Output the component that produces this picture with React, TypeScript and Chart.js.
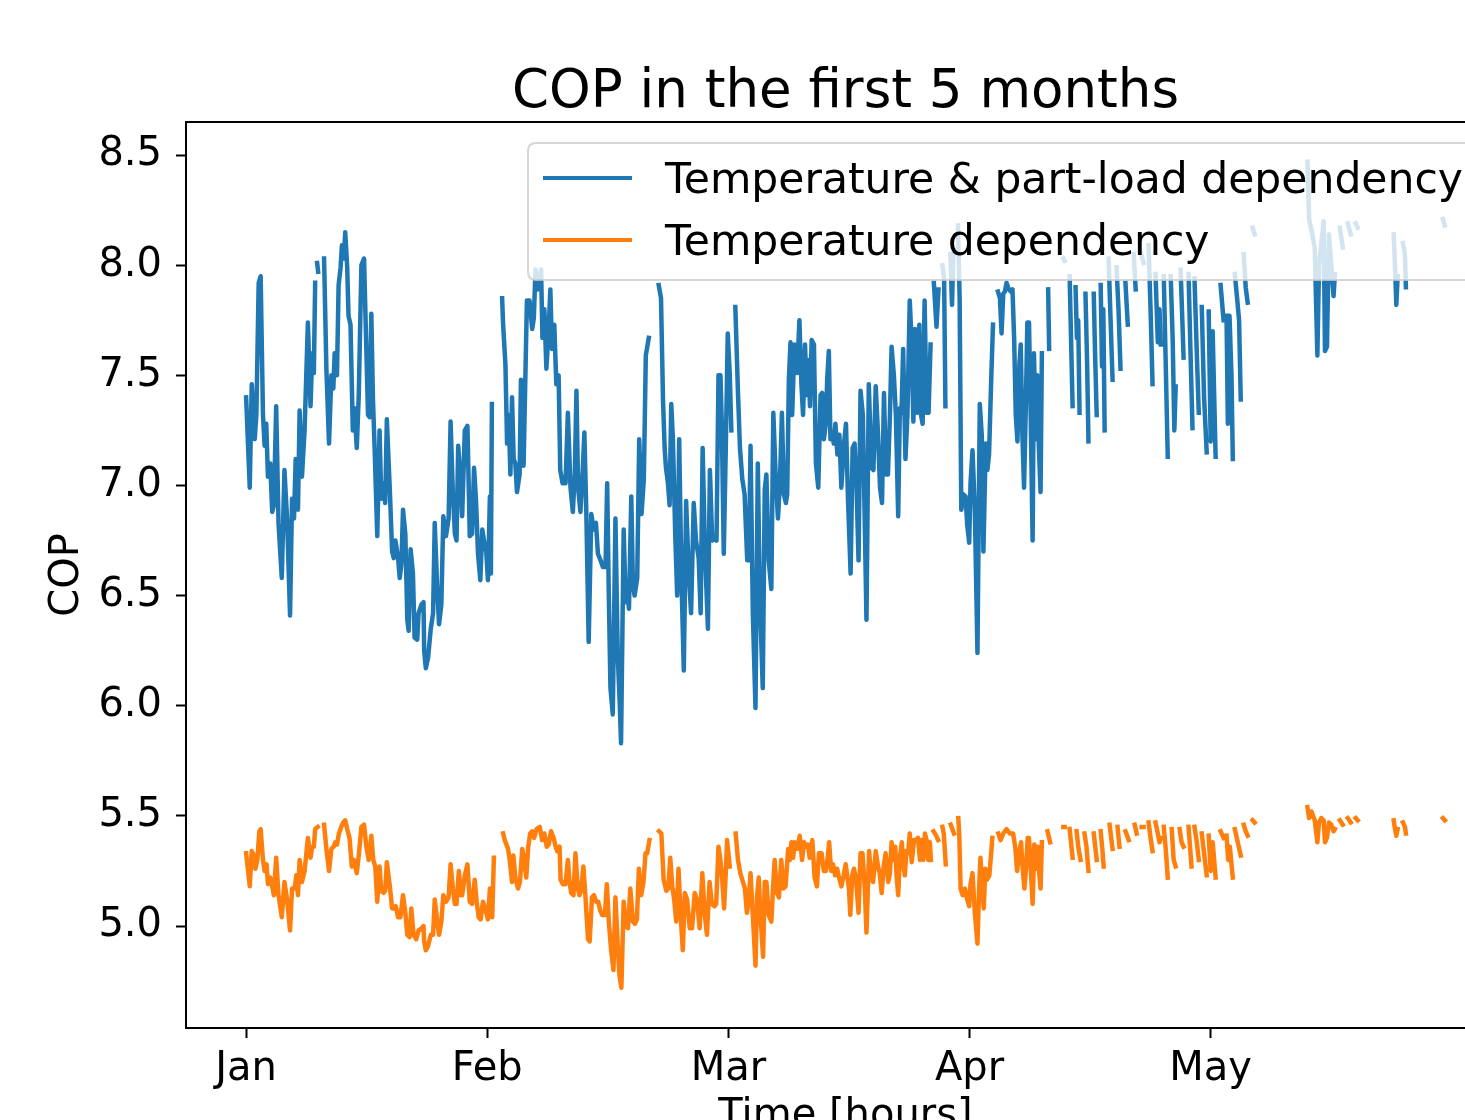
import React, { useEffect, useRef } from "react";
import { Chart, registerables } from "chart.js";

Chart.register(...registerables);

const FONT = "'DejaVu Sans', 'Liberation Sans', sans-serif";
const TITLE = "COP in the first 5 months";
const Y_LABEL = "COP";
const X_LABEL = "Time [hours]";
const SERIES_NAMES = ["Temperature & part-load dependency", "Temperature dependency"];
const SERIES_COLORS = ["#1f77b4", "#ff7f0e"];
const MONTH_TICKS = [0, 730, 1460, 2190, 2920];
const MONTH_LABELS = ["Jan", "Feb", "Mar", "Apr", "May"];
const COP_TICKS = [5.0, 5.5, 6.0, 6.5, 7.0, 7.5, 8.0, 8.5];
const X_RANGE = [-182, 3811];
const Y_RANGE = [4.537, 8.65];

// [hour, COP] — null marks a gap (heat pump off)
const partLoadCop: [number, number | null][] = [
  [0, 7.40], [11, 6.99], [17, 7.46], [26, 7.21], [31, 7.32], [38, 7.92], [44, 7.95], [51, 7.32], [56, 7.18], [61, 7.28],
  [66, 7.04], [73, 7.10], [79, 6.88], [84, 6.91], [91, 7.36], [98, 6.83], [108, 6.58], [116, 7.07], [124, 6.85], [133, 6.41],
  [139, 6.94], [145, 6.85], [150, 7.12], [157, 6.89], [162, 7.34], [169, 7.04], [177, 7.25], [187, 7.74], [195, 7.36], [200, 7.60],
  [205, 7.51], [209, 7.92], [213, null], [215, 8.01], [218, 7.97], [224, null], [236, 8.03], [243, 7.53], [251, 7.19], [258, 7.50],
  [264, 7.44], [268, 7.60], [275, 7.50], [280, 7.91], [286, 7.99], [290, 8.09], [296, 8.03], [300, 8.15], [306, 7.99], [310, 7.77],
  [316, 7.73], [323, 7.25], [328, 7.35], [335, 7.17], [341, 7.41], [349, 8.00], [357, 8.03], [369, 7.32], [374, 7.31], [379, 7.78],
  [384, 7.39], [389, 7.17], [397, 6.77], [404, 7.25], [409, 6.94], [415, 7.01], [421, 6.92], [426, 7.30], [435, 6.98], [442, 6.70],
  [447, 6.67], [452, 6.75], [460, 6.67], [465, 6.58], [470, 6.64], [475, 6.89], [482, 6.78], [488, 6.39], [492, 6.34], [498, 6.71],
  [505, 6.60], [510, 6.31], [518, 6.30], [522, 6.42], [531, 6.46], [537, 6.47], [539, 6.25], [544, 6.17], [551, 6.22], [559, 6.35],
  [566, 6.42], [571, 6.83], [578, 6.55], [584, 6.37], [591, 6.46], [597, 6.86], [605, 6.77], [613, 6.85], [619, 7.29], [626, 6.96],
  [632, 6.78], [637, 6.75], [642, 7.18], [649, 7.03], [654, 6.86], [662, 7.25], [670, 7.27], [677, 6.77], [684, 6.78], [690, 7.08],
  [696, 6.93], [702, 6.69], [709, 6.57], [715, 6.80], [722, 6.73], [727, 6.70], [732, 6.57], [738, 6.95], [741, 6.60], [744, 7.37],
  [752, null],
  [775, 7.85], [778, 7.73], [785, 7.55], [790, 7.19], [795, 7.32], [800, 7.05], [805, 7.40], [810, 7.12], [815, 7.10], [820, 6.97],
  [828, 7.05], [832, 7.48], [840, 7.09], [850, 7.84], [858, 7.84], [866, 7.71], [871, 7.76], [876, 7.98], [883, 7.89], [893, 7.98],
  [897, 7.67], [903, 7.80], [909, 7.53], [916, 7.71], [921, 7.89], [926, 7.62], [933, 7.73], [939, 7.46], [946, 7.50], [951, 7.07],
  [958, 7.01], [967, 7.01], [974, 7.33], [982, 6.99], [989, 6.88], [995, 7.05], [1000, 7.43], [1005, 6.99], [1012, 6.88], [1019, 7.07],
  [1024, 7.24], [1030, 6.87], [1037, 6.29], [1045, 6.87], [1052, 6.80], [1059, 6.83], [1065, 6.69], [1073, 6.66], [1080, 6.63], [1088, 6.63],
  [1093, 7.01], [1098, 6.50], [1103, 6.08], [1110, 5.96], [1118, 6.85], [1125, 6.23], [1131, 6.01], [1135, 5.83], [1143, 6.80], [1149, 6.47],
  [1153, 6.53], [1159, 6.44], [1166, 6.95], [1171, 6.55], [1176, 6.50], [1184, 6.58], [1190, 7.21], [1197, 6.87], [1204, 7.03], [1210, 7.59],
  [1219, 7.67], [1230, null],
  [1249, 7.91], [1256, 7.85], [1262, 7.39], [1267, 7.17], [1271, 7.08], [1277, 7.01], [1282, 6.91], [1287, 7.37], [1292, 7.21], [1299, 6.78],
  [1305, 6.50], [1311, 7.21], [1318, 6.57], [1325, 6.16], [1332, 6.93], [1340, 6.60], [1347, 6.42], [1355, 6.92], [1362, 6.75], [1370, 6.67],
  [1376, 6.42], [1382, 7.17], [1389, 6.71], [1398, 6.35], [1404, 7.07], [1411, 6.75], [1418, 6.76], [1424, 6.75], [1430, 7.50], [1436, 7.50],
  [1440, 7.28], [1446, 6.69], [1452, 7.16], [1458, 7.69], [1464, 7.51], [1469, 7.25], [1474, null],
  [1481, 7.81], [1489, 7.42], [1495, 7.17], [1502, 7.03], [1509, 6.96], [1517, 6.66], [1522, 6.66], [1527, 7.18], [1534, 6.42], [1542, 5.99],
  [1549, 7.10], [1555, 6.51], [1564, 6.08], [1570, 6.98], [1575, 7.05], [1582, 6.66], [1590, 6.53], [1596, 7.33], [1603, 7.05], [1610, 6.85],
  [1616, 7.01], [1622, 7.33], [1628, 6.96], [1634, 6.92], [1638, 6.96], [1643, 7.48], [1648, 7.65], [1653, 7.32], [1660, 7.64], [1668, 7.51],
  [1675, 7.75], [1681, 7.46], [1686, 7.32], [1692, 7.64], [1697, 7.41], [1702, 7.57], [1707, 7.36], [1712, 7.66], [1719, 7.64], [1725, 7.10],
  [1732, 6.99], [1739, 7.41], [1744, 7.42], [1749, 7.21], [1755, 7.28], [1759, 7.48], [1764, 7.61], [1769, 7.21], [1775, 7.23], [1779, 7.19],
  [1784, 7.28], [1790, 7.14], [1796, 7.23], [1802, 6.99], [1810, 7.19], [1816, 7.28], [1822, 6.94], [1830, 6.60], [1836, 7.17], [1842, 7.19],
  [1848, 6.99], [1854, 6.66], [1860, 7.43], [1867, 7.32], [1872, 6.90], [1878, 6.39], [1885, 7.46], [1893, 7.08], [1899, 7.07], [1906, 7.45],
  [1913, 7.23], [1919, 6.99], [1925, 6.92], [1931, 7.42], [1937, 7.05], [1943, 7.05], [1949, 7.32], [1954, 7.63], [1961, 7.50], [1967, 7.32],
  [1974, 6.86], [1979, 7.35], [1984, 7.33], [1989, 7.62], [1996, 7.12], [2002, 7.32], [2009, 7.84], [2014, 7.67], [2020, 7.29], [2025, 7.71],
  [2032, 7.33], [2038, 7.73], [2042, 7.33], [2048, 7.28], [2054, 7.84], [2060, 7.33], [2066, 7.33], [2072, 7.64], [2075, null],
  [2082, 7.92], [2090, 7.72], [2096, 7.89], [2102, null], [2108, 8.00], [2113, 7.94], [2117, 7.36], [2124, null],
  [2132, 8.05], [2137, 7.82], [2141, 8.07], [2149, null],
  [2155, 8.18], [2160, 7.85], [2165, 6.89], [2171, 6.96], [2178, 6.95], [2183, 6.82], [2189, 6.74], [2193, 7.01], [2199, 7.16], [2206, 6.89],
  [2214, 6.24], [2221, 7.37], [2227, 7.23], [2232, 6.70], [2239, 7.19], [2244, 7.07], [2249, 7.14], [2256, 7.50], [2261, 7.73], [2267, null],
  [2276, 7.88], [2282, 7.85], [2287, 7.69], [2292, 7.87], [2297, 7.88], [2302, 7.92], [2309, 7.89], [2315, 7.88], [2320, 7.89], [2325, 7.67],
  [2330, 7.32], [2335, 7.20], [2341, 7.55], [2345, 7.64], [2350, 7.23], [2355, 6.99], [2360, 7.33], [2365, 7.74], [2370, 7.74], [2375, 7.33],
  [2381, 6.75], [2385, 7.60], [2391, 7.21], [2395, 7.50], [2400, 7.17], [2405, 6.97], [2409, 7.60], [2415, null],
  [2428, 7.89], [2431, 7.62], [2440, null], [2474, 8.03], [2478, 8.02], [2484, null],
  [2493, 7.95], [2502, 7.36], [2506, null],
  [2511, 7.90], [2515, 7.67], [2519, 7.75], [2523, 7.33], [2530, null],
  [2541, 7.87], [2546, 7.55], [2550, 7.20], [2558, null],
  [2566, 7.87], [2570, 7.60], [2575, 7.32], [2580, null],
  [2587, 7.91], [2591, 7.54], [2595, 7.80], [2599, 7.25], [2605, null],
  [2611, 8.03], [2617, 7.75], [2623, 7.48], [2629, null],
  [2635, 7.99], [2641, 7.80], [2647, 7.53], [2654, null],
  [2662, 7.92], [2669, 7.73], [2678, null],
  [2687, 8.05], [2693, 7.89], [2700, null],
  [2708, 8.06], [2717, 8.01], [2724, null],
  [2732, 8.09], [2738, 7.80], [2744, 7.46], [2748, null],
  [2753, 7.96], [2760, 7.65], [2765, 7.80], [2769, 7.64], [2773, null],
  [2778, 7.95], [2784, 7.55], [2790, 7.13], [2795, null],
  [2799, 7.95], [2805, 7.66], [2810, 7.25], [2814, 7.45], [2820, null],
  [2829, 7.98], [2838, 7.58], [2845, null],
  [2853, 7.96], [2859, 7.60], [2865, 7.26], [2868, null],
  [2871, 7.94], [2878, 7.60], [2884, 7.33], [2888, null],
  [2893, 7.81], [2900, 7.40], [2908, 7.15], [2911, null],
  [2914, 7.79], [2920, 7.20], [2926, 7.70], [2935, 7.13], [2942, null],
  [2950, 7.91], [2959, 7.75], [2964, null],
  [2968, 7.77], [2972, 7.28], [2977, 7.77], [2983, 7.50], [2987, 7.12], [2990, null],
  [2993, 7.96], [3000, 7.85], [3006, 7.75], [3011, 7.39], [3015, null],
  [3020, 8.05], [3026, 7.90], [3032, 7.83], [3040, null],
  [3047, 8.17], [3053, 8.14], [3100, null],
  [3213, 8.47], [3218, 8.21], [3225, 8.16], [3235, 8.08], [3243, 7.59], [3248, 8.00], [3255, 8.10], [3262, 8.20], [3266, 7.61], [3272, 7.63],
  [3278, 8.14], [3285, 8.00], [3292, 7.86], [3296, 7.96], [3303, null],
  [3311, 8.17], [3320, 8.08], [3328, null],
  [3335, 8.19], [3344, 8.14], [3350, null],
  [3359, 8.19], [3365, 8.17], [3400, null],
  [3474, 8.14], [3478, 8.00], [3482, 7.82], [3486, 7.95], [3494, null],
  [3502, 8.10], [3508, 8.05], [3511, 7.90], [3560, null],
  [3623, 8.21], [3629, 8.18],
];

const temperatureCop: [number, number | null][] = [
  [0, 5.33], [11, 5.18], [17, 5.34], [23, 5.32], [28, 5.26], [34, 5.30], [40, 5.43], [44, 5.44], [51, 5.30], [56, 5.25],
  [62, 5.28], [66, 5.19], [73, 5.22], [79, 5.18], [84, 5.14], [91, 5.31], [98, 5.14], [108, 5.04], [116, 5.20], [124, 5.12],
  [133, 4.98], [139, 5.17], [147, 5.17], [152, 5.23], [157, 5.14], [162, 5.30], [169, 5.20], [177, 5.25], [187, 5.40], [195, 5.31],
  [200, 5.36], [205, 5.36], [209, 5.44], [217, 5.45], [224, null],
  [236, 5.46], [243, 5.35], [251, 5.25], [258, 5.35], [265, 5.36], [270, 5.38], [275, 5.37], [281, 5.42], [288, 5.45], [294, 5.47],
  [300, 5.48], [306, 5.44], [313, 5.40], [320, 5.27], [326, 5.30], [335, 5.24], [341, 5.32], [349, 5.45], [357, 5.46], [364, 5.36],
  [371, 5.30], [379, 5.41], [385, 5.30], [391, 5.27], [397, 5.11], [404, 5.27], [409, 5.16], [416, 5.15], [421, 5.16], [426, 5.29],
  [435, 5.18], [442, 5.08], [448, 5.08], [453, 5.09], [460, 5.04], [467, 5.04], [475, 5.14], [482, 5.06], [488, 4.96], [495, 4.95],
  [500, 5.08], [507, 4.96], [515, 4.94], [522, 4.98], [531, 4.99], [537, 5.00], [539, 4.93], [544, 4.89], [551, 4.91], [559, 4.96],
  [566, 4.96], [571, 5.12], [578, 5.03], [584, 4.96], [591, 5.02], [597, 5.14], [605, 5.11], [613, 5.13], [619, 5.28], [626, 5.17],
  [632, 5.10], [637, 5.10], [644, 5.25], [650, 5.14], [654, 5.14], [662, 5.23], [670, 5.28], [677, 5.11], [684, 5.10], [692, 5.21],
  [698, 5.11], [704, 5.04], [710, 5.03], [717, 5.11], [724, 5.08], [732, 5.03], [738, 5.17], [745, 5.04], [750, 5.31], [760, null],
  [778, 5.42], [783, 5.39], [793, 5.35], [798, 5.30], [805, 5.20], [809, 5.32], [815, 5.22], [823, 5.17], [829, 5.20], [836, 5.35],
  [842, 5.30], [848, 5.22], [854, 5.36], [860, 5.42], [866, 5.43], [872, 5.40], [879, 5.44], [889, 5.45], [896, 5.39], [903, 5.42],
  [910, 5.36], [916, 5.37], [923, 5.43], [931, 5.40], [937, 5.36], [942, 5.34], [949, 5.36], [952, 5.21], [959, 5.19], [967, 5.19],
  [974, 5.30], [979, 5.20], [984, 5.15], [991, 5.14], [997, 5.33], [1004, 5.17], [1009, 5.14], [1014, 5.16], [1021, 5.27], [1027, 5.14],
  [1035, 4.94], [1040, 4.93], [1047, 5.13], [1053, 5.14], [1060, 5.11], [1066, 5.11], [1072, 5.07], [1078, 5.05], [1086, 5.05], [1092, 5.19],
  [1098, 5.02], [1105, 4.89], [1112, 4.80], [1118, 5.13], [1125, 4.91], [1130, 4.78], [1136, 4.72], [1143, 5.11], [1149, 5.00], [1156, 4.99],
  [1163, 5.17], [1171, 5.02], [1177, 5.01], [1183, 5.03], [1189, 5.26], [1196, 5.14], [1203, 5.20], [1209, 5.33], [1214, 5.33], [1221, 5.39],
  [1230, null],
  [1250, 5.43], [1257, 5.42], [1264, 5.21], [1272, 5.16], [1278, 5.17], [1284, 5.31], [1290, 5.18], [1296, 5.12], [1302, 5.02], [1309, 5.26],
  [1315, 5.06], [1322, 4.89], [1328, 5.15], [1335, 5.12], [1343, 4.99], [1350, 4.99], [1358, 5.15], [1365, 5.12], [1373, 4.99], [1381, 5.24],
  [1388, 5.06], [1395, 4.96], [1403, 5.20], [1410, 5.10], [1418, 5.09], [1423, 5.10], [1430, 5.36], [1435, 5.31], [1441, 5.22], [1447, 5.08],
  [1452, 5.24], [1456, 5.39], [1464, 5.27], [1472, null],
  [1482, 5.42], [1489, 5.30], [1496, 5.24], [1504, 5.20], [1510, 5.17], [1516, 5.06], [1522, 5.12], [1527, 5.24], [1535, 5.02], [1542, 4.82],
  [1547, 5.14], [1552, 5.22], [1557, 5.05], [1565, 4.86], [1570, 5.20], [1575, 5.20], [1582, 5.05], [1590, 5.02], [1595, 5.17], [1600, 5.30],
  [1607, 5.15], [1613, 5.13], [1620, 5.30], [1627, 5.17], [1633, 5.18], [1641, 5.35], [1646, 5.30], [1651, 5.38], [1656, 5.31], [1661, 5.38],
  [1669, 5.35], [1676, 5.41], [1683, 5.30], [1689, 5.38], [1696, 5.36], [1701, 5.37], [1706, 5.31], [1714, 5.39], [1721, 5.22], [1728, 5.18],
  [1734, 5.33], [1742, 5.33], [1749, 5.25], [1755, 5.25], [1760, 5.30], [1765, 5.38], [1771, 5.25], [1777, 5.28], [1783, 5.23], [1789, 5.26],
  [1795, 5.22], [1802, 5.18], [1809, 5.23], [1815, 5.28], [1825, 5.17], [1829, 5.05], [1835, 5.23], [1840, 5.26], [1846, 5.22], [1854, 5.06],
  [1860, 5.33], [1866, 5.33], [1873, 5.17], [1878, 4.97], [1886, 5.34], [1891, 5.24], [1898, 5.20], [1906, 5.34], [1913, 5.27], [1918, 5.24],
  [1924, 5.15], [1930, 5.27], [1936, 5.33], [1944, 5.20], [1949, 5.24], [1954, 5.38], [1961, 5.30], [1965, 5.36], [1969, 5.23], [1974, 5.14],
  [1979, 5.31], [1985, 5.38], [1989, 5.29], [1994, 5.23], [1999, 5.34], [2004, 5.33], [2009, 5.42], [2015, 5.29], [2022, 5.39], [2027, 5.39],
  [2034, 5.40], [2040, 5.30], [2045, 5.39], [2050, 5.30], [2055, 5.42], [2060, 5.39], [2065, 5.30], [2070, 5.38], [2073, 5.30], [2077, null],
  [2081, 5.43], [2089, 5.41], [2095, 5.39], [2101, null], [2108, 5.45], [2112, 5.42], [2118, 5.28], [2124, null],
  [2133, 5.46], [2138, 5.44], [2143, 5.42], [2149, null],
  [2156, 5.49], [2159, 5.41], [2163, 5.17], [2169, 5.14], [2176, 5.17], [2183, 5.12], [2189, 5.09], [2193, 5.19], [2199, 5.24], [2206, 5.06],
  [2214, 4.92], [2219, 5.17], [2223, 5.31], [2229, 5.17], [2233, 5.08], [2238, 5.26], [2243, 5.21], [2250, 5.23], [2255, 5.32], [2259, 5.40],
  [2268, null],
  [2277, 5.42], [2284, 5.39], [2292, 5.42], [2302, 5.44], [2312, 5.42], [2322, 5.42], [2329, 5.35], [2334, 5.25], [2340, 5.33], [2346, 5.38],
  [2350, 5.28], [2356, 5.17], [2361, 5.26], [2366, 5.40], [2370, 5.40], [2375, 5.27], [2381, 5.10], [2386, 5.37], [2391, 5.26], [2396, 5.36],
  [2401, 5.24], [2405, 5.17], [2409, 5.38], [2415, null],
  [2426, 5.43], [2434, 5.38], [2444, null], [2474, 5.45], [2478, 5.45], [2484, null],
  [2493, 5.44], [2502, 5.31], [2506, null],
  [2514, 5.43], [2520, 5.35], [2526, 5.30], [2530, null],
  [2538, 5.42], [2544, 5.36], [2550, 5.25], [2558, null],
  [2566, 5.42], [2575, 5.30], [2580, null],
  [2587, 5.43], [2592, 5.35], [2596, 5.27], [2605, null],
  [2614, 5.46], [2623, 5.35], [2629, null],
  [2638, 5.45], [2644, 5.36], [2654, null],
  [2662, 5.43], [2672, 5.39], [2678, null],
  [2690, 5.46], [2696, 5.42], [2700, null],
  [2711, 5.45], [2717, 5.45], [2724, null],
  [2732, 5.47], [2738, 5.40], [2744, 5.34], [2748, null],
  [2753, 5.47], [2760, 5.42], [2765, 5.38], [2769, 5.40], [2773, null],
  [2778, 5.45], [2784, 5.35], [2790, 5.22], [2795, null],
  [2802, 5.44], [2808, 5.30], [2814, 5.27], [2820, null],
  [2826, 5.44], [2832, 5.38], [2838, 5.36], [2845, null],
  [2853, 5.45], [2858, 5.35], [2862, 5.27], [2868, null],
  [2871, 5.45], [2878, 5.38], [2884, 5.30], [2888, null],
  [2893, 5.42], [2900, 5.33], [2908, 5.23], [2911, null],
  [2914, 5.41], [2920, 5.25], [2926, 5.38], [2935, 5.22], [2942, null],
  [2950, 5.43], [2959, 5.40], [2964, null],
  [2968, 5.41], [2973, 5.30], [2978, 5.36], [2983, 5.28], [2987, 5.22], [2990, null],
  [2993, 5.44], [3002, 5.38], [3011, 5.32], [3015, null],
  [3020, 5.46], [3026, 5.43], [3032, 5.41], [3040, null],
  [3047, 5.48], [3053, 5.47], [3100, null],
  [3213, 5.54], [3218, 5.49], [3225, 5.52], [3235, 5.48], [3243, 5.38], [3248, 5.47], [3255, 5.49], [3262, 5.48], [3266, 5.38], [3272, 5.40],
  [3278, 5.47], [3285, 5.46], [3292, 5.43], [3296, 5.44], [3303, null],
  [3311, 5.48], [3320, 5.46], [3328, null],
  [3335, 5.49], [3344, 5.47], [3350, null],
  [3359, 5.49], [3365, 5.48], [3400, null],
  [3474, 5.48], [3478, 5.44], [3482, 5.41], [3486, 5.44], [3494, null],
  [3502, 5.47], [3508, 5.45], [3511, 5.42], [3560, null],
  [3623, 5.49], [3629, 5.48],
];

const CANVAS_W = 1560;
const CANVAS_H = 1160;

const framePlugin = {
  id: "mplFrame",
  afterDraw(chart: any) {
    const { ctx, chartArea } = chart;
    const { left, top, right, bottom } = chartArea;
    ctx.save();
    // title, centred over the axes as in matplotlib
    ctx.fillStyle = "#000";
    ctx.font = `53px ${FONT}`;
    ctx.textAlign = "center";
    ctx.textBaseline = "alphabetic";
    ctx.fillText(TITLE, (left + right) / 2, top - 15);

    // spines
    ctx.strokeStyle = "#000";
    ctx.lineWidth = 2;
    ctx.strokeRect(left, top, right - left, bottom - top);

    // legend box
    const bx = left + 342, by = top + 21, bw = right - 20 - (left + 342), bh = 137, r = 8;
    ctx.beginPath();
    ctx.moveTo(bx + r, by);
    ctx.lineTo(bx + bw - r, by);
    ctx.quadraticCurveTo(bx + bw, by, bx + bw, by + r);
    ctx.lineTo(bx + bw, by + bh - r);
    ctx.quadraticCurveTo(bx + bw, by + bh, bx + bw - r, by + bh);
    ctx.lineTo(bx + r, by + bh);
    ctx.quadraticCurveTo(bx, by + bh, bx, by + bh - r);
    ctx.lineTo(bx, by + r);
    ctx.quadraticCurveTo(bx, by, bx + r, by);
    ctx.closePath();
    ctx.fillStyle = "rgba(255,255,255,0.8)";
    ctx.fill();
    ctx.strokeStyle = "rgba(204,204,204,0.8)";
    ctx.lineWidth = 2;
    ctx.stroke();

    ctx.font = `42.5px ${FONT}`;
    ctx.textAlign = "left";
    ctx.textBaseline = "alphabetic";
    SERIES_NAMES.forEach((name, i) => {
      const cy = by + 35 + i * 62;
      ctx.strokeStyle = SERIES_COLORS[i];
      ctx.lineWidth = 4;
      ctx.beginPath();
      ctx.moveTo(bx + 15, cy);
      ctx.lineTo(bx + 104, cy);
      ctx.stroke();
      ctx.fillStyle = "#000";
      ctx.fillText(name, bx + 137, cy + 15);
    });
    ctx.restore();
  },
};

export default function App() {
  const canvasRef = useRef<HTMLCanvasElement | null>(null);

  useEffect(() => {
    const canvas = canvasRef.current;
    if (!canvas) return;
    const tickFont = { family: FONT, size: 40 };
    const chart = new Chart(canvas, {
      type: "line",
      data: {
        datasets: [
          {
            label: SERIES_NAMES[0],
            data: partLoadCop.map(([x, y]) => ({ x, y })),
            borderColor: SERIES_COLORS[0],
            backgroundColor: SERIES_COLORS[0],
            borderWidth: 4.5,
            pointRadius: 0,
            tension: 0,
            spanGaps: false,
            borderJoinStyle: "round",
            borderCapStyle: "square",
          },
          {
            label: SERIES_NAMES[1],
            data: temperatureCop.map(([x, y]) => ({ x, y })),
            borderColor: SERIES_COLORS[1],
            backgroundColor: SERIES_COLORS[1],
            borderWidth: 4.5,
            pointRadius: 0,
            tension: 0,
            spanGaps: false,
            borderJoinStyle: "round",
            borderCapStyle: "square",
          },
        ],
      },
      options: {
        animation: false,
        responsive: false,
        devicePixelRatio: 1,
        events: [],
        layout: { padding: { left: 0, right: 55, top: 122, bottom: 0 } },
        plugins: {
          legend: { display: false },
          tooltip: { enabled: false },
          title: { display: false },
        },
        scales: {
          x: {
            type: "linear",
            min: X_RANGE[0],
            max: X_RANGE[1],
            afterBuildTicks: (s: any) => {
              s.ticks = MONTH_TICKS.map((v) => ({ value: v }));
            },
            ticks: {
              callback: (v: any) => {
                const i = MONTH_TICKS.indexOf(Number(v));
                return i >= 0 ? MONTH_LABELS[i] : "";
              },
              color: "#000",
              font: tickFont,
              padding: 8,
              maxRotation: 0,
              autoSkip: false,
            },
            grid: {
              drawOnChartArea: false,
              drawTicks: true,
              tickLength: 10,
              tickWidth: 2,
              tickColor: "#000",
              color: "#000",
            },
            border: { display: false },
            title: {
              display: true,
              text: X_LABEL,
              color: "#000",
              font: { family: FONT, size: 40 },
              padding: { top: 0, bottom: 19 },
            },
            afterFit: (s: any) => {
              s.height = 132;
            },
          },
          y: {
            type: "linear",
            min: Y_RANGE[0],
            max: Y_RANGE[1],
            afterBuildTicks: (s: any) => {
              s.ticks = COP_TICKS.map((v) => ({ value: v }));
            },
            ticks: {
              callback: (v: any) => Number(v).toFixed(1),
              color: "#000",
              font: tickFont,
              padding: 14,
            },
            grid: {
              drawOnChartArea: false,
              drawTicks: true,
              tickLength: 10,
              tickWidth: 2,
              tickColor: "#000",
              color: "#000",
            },
            border: { display: false },
            title: {
              display: true,
              text: Y_LABEL,
              color: "#000",
              font: { family: FONT, size: 40 },
              padding: { top: 44, bottom: 0 },
            },
            afterFit: (s: any) => {
              s.width = 186;
            },
          },
        },
      },
      plugins: [framePlugin],
    } as any);
    return () => chart.destroy();
  }, []);

  return (
    <div
      style={{
        position: "fixed",
        left: 0,
        top: 0,
        width: 1465,
        height: 1120,
        overflow: "hidden",
        background: "#fff",
      }}
    >
      <canvas
        ref={canvasRef}
        width={CANVAS_W}
        height={CANVAS_H}
        style={{ display: "block", width: CANVAS_W, height: CANVAS_H }}
      />
    </div>
  );
}
